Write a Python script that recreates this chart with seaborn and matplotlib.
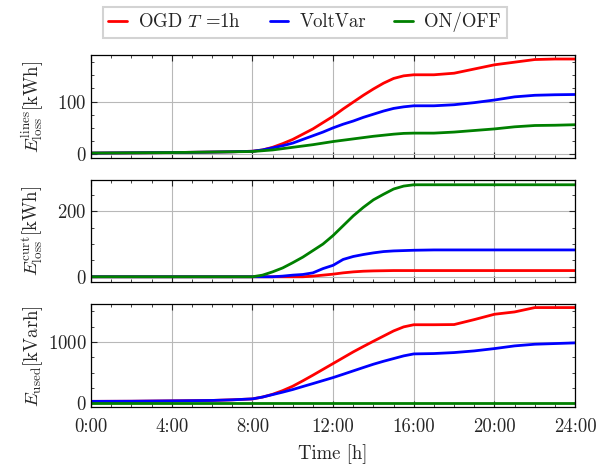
import numpy as np
import pandas as pd
import matplotlib
matplotlib.use("Agg")
import matplotlib.pyplot as plt
import seaborn as sns
from matplotlib.ticker import MultipleLocator

# hours of the day where the curves are sampled
HOURS = [0, 2, 4, 6, 7, 8, 8.5, 9, 9.5, 10, 10.5, 11, 11.5, 12, 12.5, 13, 13.5,
         14, 14.5, 15, 15.5, 16, 17, 18, 19, 20, 21, 22, 23, 24]

# line losses [kWh]
LINES_OGD = [2, 2.5, 3, 4, 4.5, 5.5, 8, 13, 20, 28, 38, 48, 60, 72, 86, 99, 112,
             124, 135, 144, 149, 151, 151, 154, 162, 170, 175, 180, 181, 181]
LINES_VV = [2, 2.5, 3, 4, 4.5, 5.5, 8, 12, 16, 21, 28, 35, 42, 50, 57, 63, 70,
            76, 82, 87, 90, 92, 92, 94, 98, 103, 109, 112, 113, 113.5]
LINES_ONOFF = [2, 2.5, 3, 4, 4.5, 5, 6.5, 8, 10.5, 13, 15.5, 18, 21, 24, 26.5, 29, 31.5,
               34, 36, 38, 39.5, 40, 40, 42, 45, 48, 52, 54.5, 55, 56]

# curtailment losses [kWh]
CURT_OGD = [0, 0, 0, 0, 0, 0, 0, 0, 0, 0, 0, 2, 5, 8, 12, 15, 17,
            18, 18.5, 19, 19, 19, 19, 19, 19, 19, 19, 19, 19, 19]
CURT_VV = [0, 0, 0, 0, 0, 0, 0, 0, 2, 5, 7, 12, 25, 35, 53, 62, 68,
           73, 77, 79, 80, 81, 82, 82, 82, 82, 82, 82, 82, 82]
CURT_ONOFF = [0, 0, 0, 0, 0, 0, 5, 15, 27, 43, 60, 80, 100, 126, 156, 186, 212,
              235, 252, 268, 277, 281, 281, 281, 281, 281, 281, 281, 281, 281]

# reactive energy used [kVarh]
USED_OGD = [30, 32, 38, 45, 55, 70, 100, 145, 205, 277, 365, 457, 552, 647, 742, 837, 925,
            1011, 1095, 1179, 1245, 1280, 1280, 1283, 1364, 1451, 1489, 1560, 1560, 1560]
USED_VV = [30, 32, 38, 45, 55, 70, 100, 140, 180, 223, 272, 320, 369, 418, 472, 527, 582,
           636, 684, 728, 772, 804, 810, 826, 853, 891, 935, 962, 973, 984]
USED_ONOFF = [5] * len(HOURS)

METHODS = ["OGD $T$ =1h", "VoltVar", "ON/OFF"]
COLORS = ["red", "blue", "green"]
YLABELS = [r"$E_{\rm loss}^{\rm lines}$[kWh]",
           r"$E_{\rm loss}^{\rm curt}$[kWh]",
           r"$E_{\rm used}$[kVarh]"]
XTICKS = [0, 4, 8, 12, 16, 20, 24]
XTICKLABELS = ["0:00", "4:00", "8:00", "12:00", "16:00", "20:00", "24:00"]


def long_frame(series):
    parts = []
    for name, vals in zip(METHODS, series):
        parts.append(pd.DataFrame({"hour": HOURS, "value": vals, "method": name}))
    return pd.concat(parts, ignore_index=True)


sns.set_theme(style="ticks")
plt.rcParams.update({
    "font.family": "serif",
    "font.serif": ["cmr10", "DejaVu Serif"],
    "mathtext.fontset": "cm",
    "axes.formatter.use_mathtext": True,
    "font.size": 13.5,
    "axes.labelsize": 13.5,
    "xtick.labelsize": 13.5,
    "ytick.labelsize": 13.5,
    "legend.fontsize": 13.5,
    "axes.edgecolor": "black",
    "axes.linewidth": 0.9,
})

panels = [
    (long_frame([LINES_OGD, LINES_VV, LINES_ONOFF]), (-7, 188), 100, 25),
    (long_frame([CURT_OGD, CURT_VV, CURT_ONOFF]), (-17, 296), 200, 50),
    (long_frame([USED_OGD, USED_VV, USED_ONOFF]), (-60, 1612), 1000, 250),
]

fig, axes = plt.subplots(3, 1, figsize=(6.01, 4.65), dpi=100, sharex=True)
fig.subplots_adjust(left=0.1514, right=0.957, top=0.881, bottom=0.125, hspace=0.215)

for ax, (df, ylim, major, minor), ylabel in zip(axes, panels, YLABELS):
    sns.lineplot(data=df, x="hour", y="value", hue="method", palette=COLORS,
                 linewidth=2.0, legend=False, ax=ax)
    ax.set_xlim(0, 24)
    ax.set_ylim(*ylim)
    ax.yaxis.set_major_locator(MultipleLocator(major))
    ax.yaxis.set_minor_locator(MultipleLocator(minor))
    ax.xaxis.set_major_locator(MultipleLocator(4))
    ax.xaxis.set_minor_locator(MultipleLocator(1))
    ax.grid(True, which="major", color="#b8b8b8", linewidth=0.8)
    ax.tick_params(which="both", direction="in", top=True, right=True)
    ax.tick_params(axis="y", pad=3)
    ax.tick_params(axis="x", pad=8)
    ax.tick_params(which="major", length=4, width=0.8)
    ax.tick_params(which="minor", length=2, width=0.6)
    ax.set_ylabel(ylabel, labelpad=2)
    ax.set_xlabel("")

axes[-1].set_xticks(XTICKS)
axes[-1].set_xticklabels(XTICKLABELS)
axes[-1].set_xlabel("Time [h]", labelpad=6)
fig.align_ylabels(axes)

handles = [plt.Line2D([], [], color=c, linewidth=2) for c in COLORS]
leg = fig.legend(handles, METHODS, loc="upper center", bbox_to_anchor=(0.507, 1.006),
                 ncol=3, fancybox=False, edgecolor="#c8c8c8", handlelength=1.0,
                 handletextpad=0.6, columnspacing=1.5, borderpad=0.3)
leg.get_frame().set_linewidth(1.5)

fig.savefig("out.png", dpi=100)
